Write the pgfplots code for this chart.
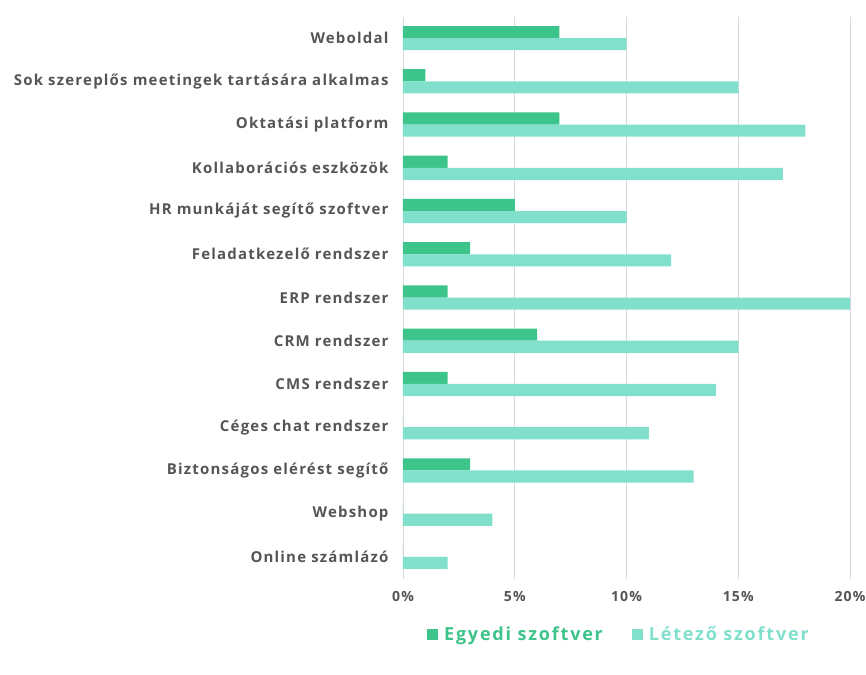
\documentclass[border=0pt]{standalone}
\usepackage{pgfplots}
\pgfplotsset{compat=1.18}
\usepackage{fontspec}
\setmainfont{Open Sans}
\newfontfamily\labfont{Open Sans}[LetterSpace=8]
\newfontfamily\legfont{Open Sans}[LetterSpace=10]
\definecolor{egy}{HTML}{3CC48A}
\definecolor{let}{HTML}{80E0CC}
\definecolor{lab}{HTML}{555555}
\definecolor{gridc}{HTML}{D9D9D9}
\begin{document}
\begin{tikzpicture}
\useasboundingbox (0,0) rectangle (866bp,675bp);
\begin{axis}[
  at={(403bp,96.5bp)}, anchor=south west,
  scale only axis, width=447bp, height=562bp,
  xbar=0pt, bar width=0.28,
  y dir=reverse,
  xmin=0, xmax=20, ymin=-0.5, ymax=12.5,
  axis line style={draw=none},
  xmajorgrids, major grid style={gridc, line width=0.8pt},
  xtick={0,5,10,15,20},
  xticklabel={\pgfmathprintnumber{\tick}\%},
  ytick={0,...,12},
  yticklabels={Weboldal,Sok szereplős meetingek tartására alkalmas,Oktatási platform,Kollaborációs eszközök,HR munkáját segítő szoftver,Feladatkezelő rendszer,ERP rendszer,CRM rendszer,CMS rendszer,Céges chat rendszer,Biztonságos elérést segítő,Webshop,Online számlázó},
  major tick length=0pt,
  /pgf/number format/assume math mode=true,
  yticklabel style={font=\labfont\fontsize{15bp}{17bp}\selectfont\bfseries, text=lab, xshift=-11bp},
  xticklabel style={font=\labfont\fontsize{14bp}{16bp}\selectfont\bfseries, text=lab, yshift=-9bp},
  legend style={draw=none, at={(0.483,-0.099)}, anchor=center, legend columns=2,
    font=\legfont\fontsize{18bp}{21bp}\selectfont\bfseries,
    /tikz/every even column/.append style={column sep=27bp}},
  legend image code/.code={\fill[#1] (0bp,-6bp) rectangle (11bp,5bp); \path (0bp,0bp) -- (15bp,0bp);},
]
\addplot[fill=egy, draw=none] coordinates {(7,0) (1,1) (7,2) (2,3) (5,4) (3,5) (2,6) (6,7) (2,8) (0,9) (3,10) (0,11) (0,12)};
\addlegendentry{\textcolor{egy}{Egyedi szoftver}}
\addplot[fill=let, draw=none] coordinates {(10,0) (15,1) (18,2) (17,3) (10,4) (12,5) (20,6) (15,7) (14,8) (11,9) (13,10) (4,11) (2,12)};
\addlegendentry{\textcolor{let}{Létező szoftver}}
\end{axis}
\end{tikzpicture}
\end{document}
